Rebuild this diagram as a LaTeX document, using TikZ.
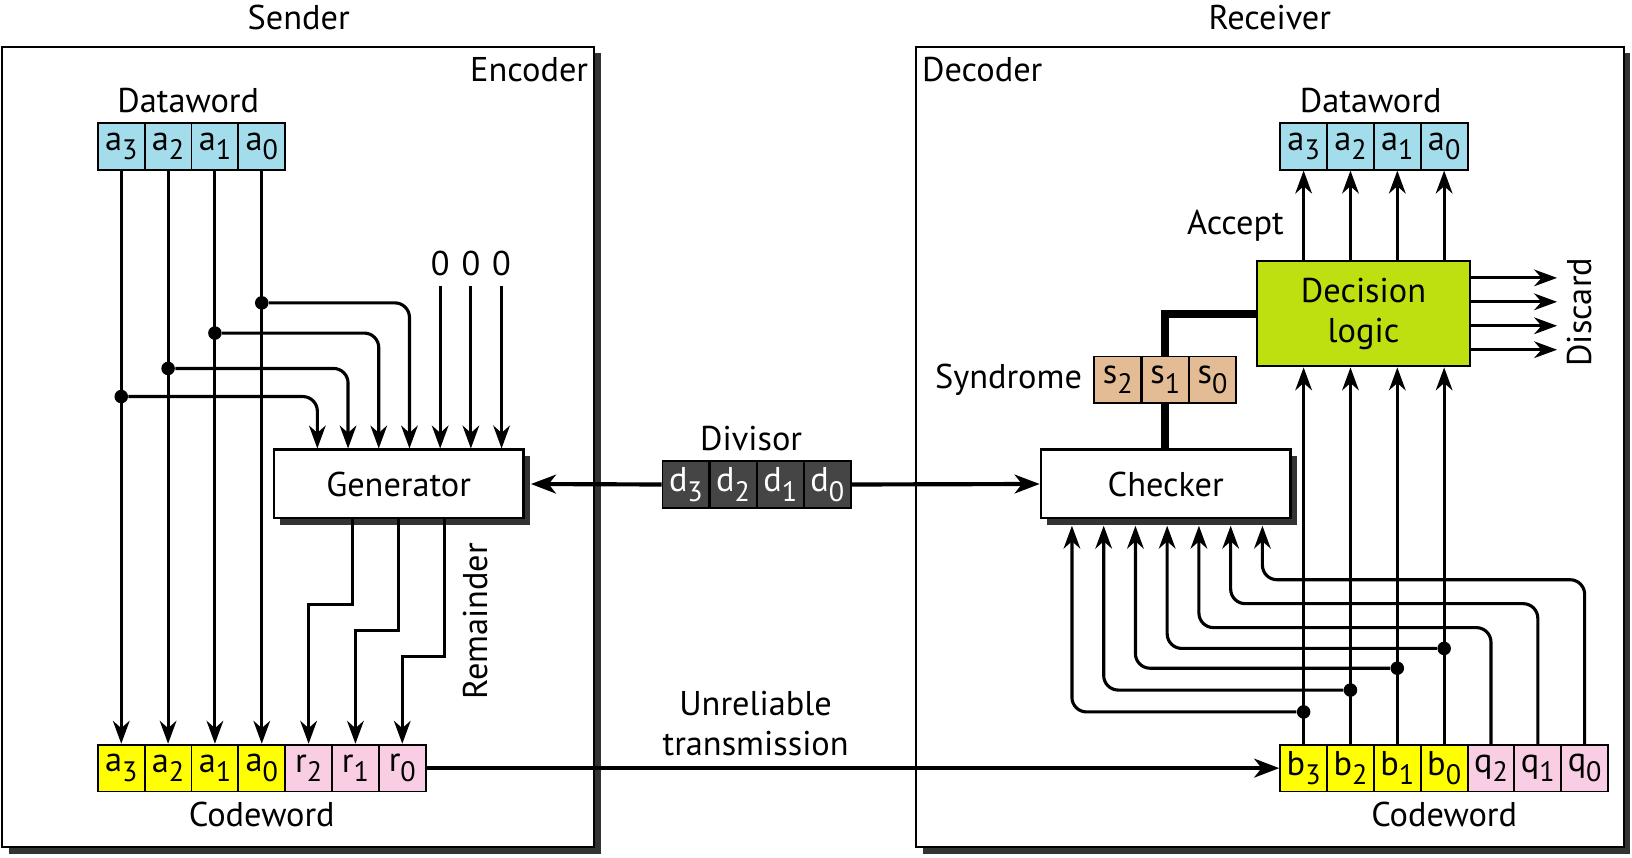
\documentclass[tikz,border=0pt]{standalone}
\usepackage{fontspec}
\setmainfont{PT Sans}
\usetikzlibrary{arrows.meta,shadows,positioning}
\definecolor{dwblue}{HTML}{A3DCEA}
\definecolor{cwyellow}{HTML}{FFFF00}
\definecolor{cwpink}{HTML}{F9CDE4}
\definecolor{syntan}{HTML}{E3BC96}
\definecolor{divgray}{HTML}{454545}
\definecolor{declime}{HTML}{BEDF10}
\newcommand{\bit}[2]{#1\raisebox{-0.55ex}{\fontsize{13.5}{13.5}\selectfont #2}}

\begin{document}
\begin{tikzpicture}[x=0.5pt, y=-0.5pt,
    font=\fontsize{16.5}{19}\selectfont,
    wire/.style={line width=1.5pt},
    arr/.style={wire, -{Stealth[length=11pt, width=8pt, inset=3.5pt]}},
    fatarr/.style={line width=2pt, -{Stealth[length=12pt, width=9pt, inset=3.5pt]}},
    bitcell/.style={draw, line width=0.9pt, minimum width=22.5pt, minimum height=22.5pt, inner sep=0pt},
    shadowbox/.style={draw, line width=1.1pt, fill=white, general shadow={fill=black!80, shadow xshift=3.2pt, shadow yshift=-3.2pt}},
    dot/.style={circle, fill, inner sep=0pt, minimum size=6.5pt}]
    \useasboundingbox (0,0) rectangle (1568,823.5);

    \node (sender) at (287,17) {Sender};
    \node (receiver) at (1220,17) {Receiver};
    \node (enc) [shadowbox, minimum width=284.5pt, minimum height=384.5pt] at (286.5,429.5) {};
    \node (dcd) [shadowbox, minimum width=340pt, minimum height=384.5pt] at (1220,429.5) {};
    \node (enclabel) [anchor=north east, yshift=-2pt] at (enc.north east) {Encoder};
    \node (dcdlabel) [anchor=north west, yshift=-2pt] at (dcd.north west) {Decoder};

    \node (gen) [shadowbox, minimum width=120pt, minimum height=33pt] at (383,465) {Generator};
    \node (chk) [shadowbox, minimum width=120pt, minimum height=33pt] at (1120,465) {Checker};
    \node (dec) [draw, line width=1pt, fill=declime, minimum width=102pt, minimum height=50.5pt, align=center] at (1310,301.5) {Decision\\logic};

    \foreach [count=\i from 0] \n in {3,2,1,0} {
      \node[bitcell, fill=dwblue] (sa\n) at (116.5+45*\i, 140.5) {\bit{a}{\n}};
      \node[bitcell, fill=cwyellow] (sc\n) at (116.5+45*\i, 738) {\bit{a}{\n}};
      \node[bitcell, fill=dwblue] (ra\n) at (1252.5+45*\i, 140.5) {\bit{a}{\n}};
      \node[bitcell, fill=cwyellow] (rb\n) at (1252.5+45*\i, 738) {\bit{b}{\n}};
      \node[bitcell, fill=divgray, text=white] (dv\n) at (659+45.3*\i, 465.5) {\bit{d}{\n}};
    }
    \foreach [count=\i from 4] \n in {2,1,0} {
      \node[bitcell, fill=cwpink] (sr\n) at (116.5+45*\i, 738) {\bit{r}{\n}};
      \node[bitcell, fill=cwpink] (rq\n) at (1252.5+45*\i, 738) {\bit{q}{\n}};
    }
    \foreach [count=\i from 0] \n in {2,1,0}
      \node[bitcell, fill=syntan] (ss\n) at (1074+45.5*\i, 365) {\bit{s}{\n}};

    \node (sdw) [above=1pt of sa2.north east, xshift=-2pt] {Dataword};
    \node (rdw) [above=1pt of ra2.north east, xshift=-2pt] {Dataword};
    \node (scw) [below=1pt of sc0] {Codeword};
    \node (rcw) [below=1pt of rb0] {Codeword};
    \node (dvlabel) [above=1pt of dv2.north east, xshift=-3pt] {Divisor};
    \node (synlabel) [left=2pt of ss2] {Syndrome};
    \node (accept) at (1187,217) {Accept};
    \node (discard) [rotate=90] at (1518,300) {Discard};
    \node (remainder) [rotate=90] at (457,597) {Remainder};
    \node (unrel) [align=center] at (726,695) {Unreliable\\transmission};

    \foreach \k in {1,...,7} {
      \path (gen.north west) ++({13.5+29.5*\k},0) coordinate (gi\k);
      \path (chk.south west) ++({0.5+30.5*\k},0) coordinate (ci\k);
    }
    \foreach \n in {3,2,1,0} {
      \draw[arr] (sa\n.south) -- (sc\n.north);
      \draw[arr] (dec.north -| ra\n) -- (ra\n.south);
      \draw[arr] (rb\n.north) -- (dec.south -| rb\n);
    }
    \foreach \n/\y/\k in {3/381/1, 2/354/2, 1/320/3, 0/291/4} {
      \node[dot] (ta\n) at (sa\n.south |- 0,\y) {};
      \draw[arr, rounded corners=7pt] (ta\n) -| (gi\k);
    }
    \foreach \k in {5,6,7} {
      \node (zero\k) at (gi\k |- 0,253) {0};
      \draw[arr] (gi\k |- 0,275) -- (gi\k);
    }
    \foreach \n/\k/\d in {2/0/82, 1/1/107, 0/2/132}
      \draw[arr] (gen.south west) ++({77+44*\k},0) -- ++(0,\d) -| (sr\n.north);

    \foreach \n/\y/\k in {3/684/1, 2/663/2, 1/642/3, 0/623/4} {
      \node[dot] (tb\n) at (rb\n.north |- 0,\y) {};
      \draw[arr, rounded corners=7pt, shorten >=3pt] (tb\n) -| (ci\k);
    }
    \foreach \n/\y/\k in {2/603/5, 1/580/6, 0/557/7}
      \draw[arr, rounded corners=7pt, shorten >=3pt] (rq\n.north) -- (rq\n.north |- 0,\y) -| (ci\k);

    \foreach \y in {267,290,313,336}
      \draw[arr] (dec.east |- 0,\y) -- ++(83,0);

    \draw[line width=3.8pt] (chk.north -| ss1) -- (ss1.south);
    \draw[line width=3.8pt] (ss1.north) |- (dec.west);

    \draw[fatarr, shorten >=3pt] (dv3.west) -- (gen.east);
    \draw[fatarr] (dv0.east) -- (chk.west);
    \draw[fatarr] (sr0.east) -- (rb3.west);
\end{tikzpicture}
\end{document}
